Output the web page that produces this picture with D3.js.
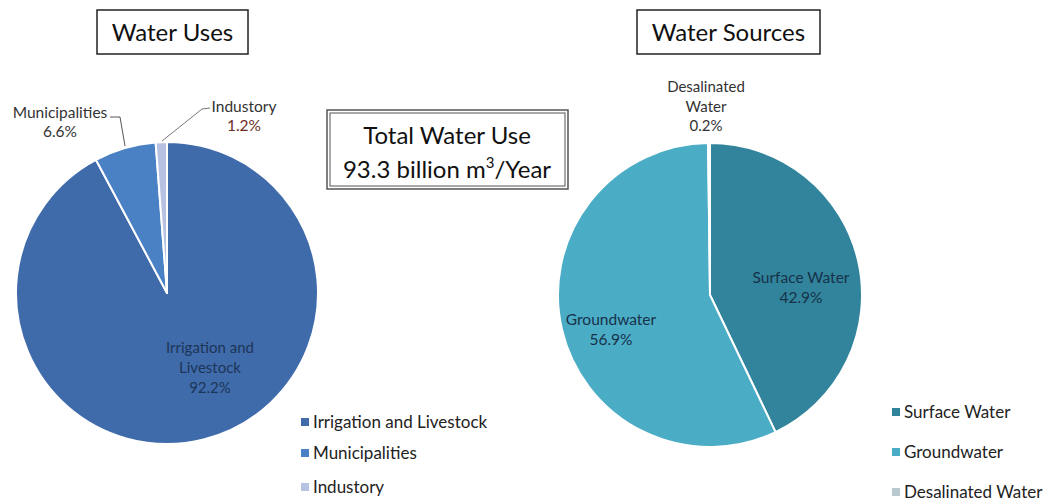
<!DOCTYPE html>
<html><head><meta charset="utf-8">
<script src="https://cdn.jsdelivr.net/npm/d3@7"></script>
<style>
html,body{margin:0;padding:0;background:#fff;}
svg{display:block;font-family:Lato,"Open Sans",sans-serif;}
</style></head>
<body><svg id="c" width="1050" height="502"></svg>
<script>
const useCategories = ["Irrigation and Livestock", "Municipalities", "Industory"];
const useValues = [92.2, 6.6, 1.2];
const useColors = ["#3f6bab", "#4a80c4", "#b7c2e2"];
const sourceCategories = ["Surface Water", "Groundwater", "Desalinated Water"];
const sourceValues = [42.9, 56.9, 0.2];
const sourceColors = ["#31849b", "#4bacc6", "#bac8d0"];
const titles = ["Water Uses", "Water Sources"];
const centerLines = ["Total Water Use", "93.3 billion m", "3", "/Year"];

const svg = d3.select("#c");
const pie = d3.pie().sort(null).value(d => d);

function drawPie(cx, cy, r, values, colors) {
  const arc = d3.arc().innerRadius(0).outerRadius(r);
  const g = svg.append("g").attr("transform", `translate(${cx},${cy})`);
  g.selectAll("path").data(pie(values)).join("path")
    .attr("d", arc).attr("fill", (d, i) => colors[i])
    .attr("stroke", "#fff").attr("stroke-width", 2).attr("stroke-linejoin", "round");
  return g;
}

drawPie(167, 293, 151, useValues, useColors);
drawPie(710, 295, 152, sourceValues, sourceColors);

// title boxes
function titleBox(x, y, w, h, text) {
  svg.append("rect").attr("x", x).attr("y", y).attr("width", w).attr("height", h)
    .attr("fill", "#fff").attr("stroke", "#222").attr("stroke-width", 1.5);
  svg.append("text").attr("x", x + w / 2).attr("y", y + 31).attr("text-anchor", "middle")
    .attr("font-size", 24).attr("fill", "#111").text(text);
}
titleBox(97, 10, 151, 44, titles[0]);
titleBox(637, 10, 183, 44, titles[1]);

// center box (double border)
svg.append("rect").attr("x", 327).attr("y", 110).attr("width", 241).attr("height", 79)
  .attr("fill", "#fff").attr("stroke", "#555").attr("stroke-width", 1.5);
svg.append("rect").attr("x", 330).attr("y", 113).attr("width", 235).attr("height", 73)
  .attr("fill", "none").attr("stroke", "#555").attr("stroke-width", 1);
svg.append("text").attr("x", 447).attr("y", 144).attr("text-anchor", "middle")
  .attr("font-size", 24).attr("fill", "#111").text(centerLines[0]);
const t2 = svg.append("text").attr("x", 447).attr("y", 178).attr("text-anchor", "middle")
  .attr("font-size", 24).attr("fill", "#111");
t2.append("tspan").text(centerLines[1]);
t2.append("tspan").attr("font-size", 15).attr("dy", -10).text(centerLines[2]);
t2.append("tspan").attr("dy", 10).text(centerLines[3]);

// data labels
function label(x, y, lines, color, size, gap) {
  const t = svg.append("text").attr("text-anchor", "middle").attr("font-size", size).attr("fill", color);
  lines.forEach((l, i) => t.append("tspan").attr("x", x).attr("y", y + i * gap).text(l));
}
const pct = v => v.toFixed(1) + "%";
label(60, 118, ["Municipalities", pct(useValues[1])], "#333", 15.5, 19);
label(244, 112, ["Industory"], "#333", 15.5, 19);
label(244, 131, [pct(useValues[2])], "#6b2e1f", 15.5, 19);
label(210, 353, ["Irrigation and", "Livestock", pct(useValues[0])], "#1d3557", 15, 20);
label(706, 92, ["Desalinated", "Water", pct(sourceValues[2])], "#333", 15, 19.5);
label(801, 283, ["Surface Water", pct(sourceValues[0])], "#17324a", 15.5, 20);
label(611, 325, ["Groundwater", pct(sourceValues[1])], "#17324a", 15.5, 20);

// leader lines
svg.append("path").attr("d", "M110,117 L120,117 L125,146").attr("fill", "none").attr("stroke", "#555").attr("stroke-width", 1);
svg.append("path").attr("d", "M210,108 L202,109 L162,141").attr("fill", "none").attr("stroke", "#777").attr("stroke-width", 1);

// legends
function legend(x, ys, cats, colors) {
  cats.forEach((c, i) => {
    svg.append("rect").attr("x", x).attr("y", ys[i] - 10).attr("width", 8).attr("height", 8).attr("fill", colors[i]);
    svg.append("text").attr("x", x + 12).attr("y", ys[i]).attr("font-size", 17).attr("fill", "#222").text(c);
  });
}
legend(301, [428, 459, 493], useCategories, useColors);
legend(892, [418, 458, 498], sourceCategories, sourceColors);
</script></body></html>
